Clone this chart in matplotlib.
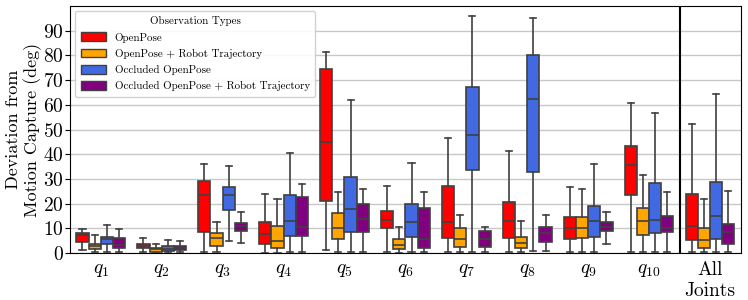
import matplotlib
matplotlib.use("Agg")
import matplotlib.pyplot as plt
from matplotlib.patches import Patch

plt.rcParams['font.family'] = 'serif'
plt.rcParams['font.serif'] = ['cmr10']
plt.rcParams['mathtext.fontset'] = 'cm'
plt.rcParams['axes.formatter.use_mathtext'] = True

groups = [r'$q_{1}$', r'$q_{2}$', r'$q_{3}$', r'$q_{4}$', r'$q_{5}$', r'$q_{6}$',
          r'$q_{7}$', r'$q_{8}$', r'$q_{9}$', r'$q_{10}$', 'All\nJoints']
series = ['OpenPose', 'OpenPose + Robot Trajectory', 'Occluded OpenPose',
          'Occluded OpenPose + Robot Trajectory']
colors = ['#ff0000', '#ffa500', '#4169e1', '#800080']

# each entry per group: (whislo, q1, med, q3, whishi)
openpose = [
    (1.2, 4.6, 7.2, 8.1, 9.8),
    (0.3, 2.2, 3.0, 3.8, 6.1),
    (0.5, 8.6, 23.5, 29.1, 36.0),
    (0.1, 3.6, 7.6, 12.7, 23.9),
    (1.1, 21.0, 44.8, 74.7, 81.4),
    (0.3, 10.3, 13.5, 17.1, 27.3),
    (0.3, 6.3, 12.6, 27.3, 46.8),
    (0.3, 6.1, 13.1, 20.6, 41.5),
    (0.3, 5.9, 10.0, 14.6, 26.6),
    (0.3, 23.5, 35.6, 43.3, 60.6),
    (0.3, 5.3, 10.9, 23.9, 52.1),
]
openpose_robot = [
    (0.3, 1.6, 3.0, 3.9, 7.4),
    (0.1, 0.5, 1.6, 2.2, 3.9),
    (0.3, 2.8, 6.3, 8.0, 12.8),
    (0.1, 2.0, 5.1, 11.2, 21.9),
    (0.3, 5.9, 10.0, 16.2, 24.7),
    (0.1, 1.6, 3.2, 5.8, 10.7),
    (0.3, 2.7, 5.9, 10.1, 15.5),
    (0.3, 2.3, 4.3, 6.7, 13.2),
    (0.3, 6.1, 10.0, 14.6, 26.0),
    (0.3, 7.3, 13.0, 18.2, 31.8),
    (0.3, 2.2, 5.3, 10.0, 22.1),
]
occluded = [
    (0.3, 3.8, 5.7, 6.7, 11.6),
    (0.3, 0.9, 1.9, 3.1, 5.3),
    (4.9, 17.5, 23.5, 26.6, 35.4),
    (0.5, 6.9, 13.1, 23.5, 40.4),
    (0.4, 8.6, 17.7, 31.0, 61.9),
    (0.3, 6.5, 12.8, 19.8, 36.3),
    (0.3, 33.6, 47.8, 67.3, 96.1),
    (0.8, 32.7, 62.5, 80.2, 95.3),
    (0.3, 6.5, 13.0, 18.9, 35.9),
    (0.3, 8.1, 13.4, 28.2, 56.7),
    (0.3, 5.8, 15.0, 29.0, 64.5),
]
occluded_robot = [
    (0.3, 2.2, 3.2, 6.2, 9.7),
    (0.3, 1.2, 2.2, 3.0, 5.0),
    (4.0, 8.9, 10.9, 12.3, 16.6),
    (0.5, 6.9, 10.4, 22.9, 27.8),
    (0.3, 8.4, 14.0, 20.1, 26.0),
    (0.3, 2.3, 5.9, 18.2, 24.7),
    (0.3, 2.7, 5.9, 9.0, 10.5),
    (0.8, 4.7, 8.1, 10.5, 15.4),
    (3.6, 8.8, 10.5, 12.8, 16.6),
    (0.5, 8.5, 10.1, 15.2, 24.6),
    (0.3, 3.6, 8.6, 12.0, 25.0),
]
all_series = [openpose, openpose_robot, occluded, occluded_robot]

fig = plt.figure(figsize=(7.48, 3.0), dpi=100)
ax = fig.add_axes([0.094, 0.156, 0.896, 0.824])

line_col = '#404040'
width = 0.2
offsets = [-0.3, -0.1, 0.1, 0.3]
for data, col, off in zip(all_series, colors, offsets):
    stats = [dict(whislo=s[0], q1=s[1], med=s[2], q3=s[3], whishi=s[4], fliers=[])
             for s in data]
    pos = [i + off for i in range(len(groups))]
    ax.bxp(stats, positions=pos, widths=width, patch_artist=True, showfliers=False,
           capwidths=0.1,
           boxprops=dict(facecolor=col, edgecolor=line_col, linewidth=1.2),
           medianprops=dict(color=line_col, linewidth=1.2),
           whiskerprops=dict(color=line_col, linewidth=1.2),
           capprops=dict(color=line_col, linewidth=1.2),
           manage_ticks=False, zorder=3)

ax.axvline(9.5, color='black', linewidth=1.5, zorder=4)

ax.set_xlim(-0.5, 10.5)
ax.set_ylim(0, 100)
ax.set_yticks(range(0, 100, 10))
ax.set_xticks(range(len(groups)))
ax.set_xticklabels(groups)
ax.tick_params(axis='x', length=0, labelsize=14, pad=6)
ax.tick_params(axis='y', labelsize=14, length=3.5, pad=1)
ax.grid(axis='y', color='#c8c8c8', linewidth=1.0, zorder=0)
ax.set_axisbelow(True)
for sp in ax.spines.values():
    sp.set_color('black')
ax.set_ylabel('Deviation from\nMotion Capture (deg)', fontsize=13, labelpad=1)

handles = [Patch(facecolor=c, edgecolor=line_col, label=l) for c, l in zip(colors, series)]
ax.legend(handles=handles, title='Observation Types', loc='upper left', fontsize=7.9,
          title_fontsize=7.9, handlelength=2.3, handleheight=0.85, labelspacing=0.55,
          handletextpad=0.8, borderaxespad=0.45, borderpad=0.5, framealpha=0.9)

fig.savefig('out.png', dpi=100)
